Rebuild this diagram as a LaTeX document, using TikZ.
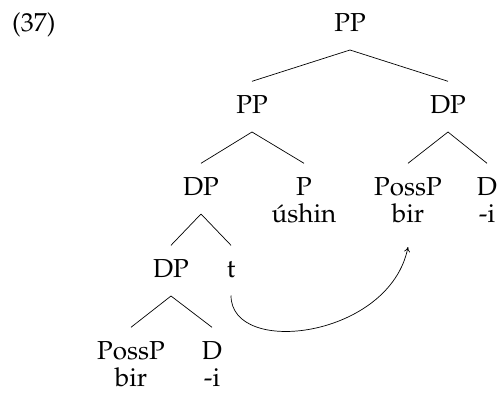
\documentclass[tikz,border=0pt]{standalone}
\IfFileExists{mathpazo.sty}{%
  \usepackage[T1]{fontenc}\usepackage{mathpazo}%
  \newcommand{\treesize}{\fontsize{26}{31}\selectfont}}{%
  \usepackage{fontspec}\setmainfont{Liberation Serif}%
  \newcommand{\treesize}{\fontsize{27.5}{32}\selectfont}}
\usetikzlibrary{arrows.meta}
\tikzset{
  cat/.style={inner xsep=1pt, inner ysep=0pt, text height=18pt, text depth=0pt, anchor=base},
  word/.style={inner xsep=1pt, inner ysep=0pt, anchor=base},
  branch/.style={line width=0.7pt},
  move/.style={line width=0.7pt, -{To[length=5pt,width=6pt]}}
}
\newcommand{\tbranch}[2]{%
  \draw[branch] ([yshift=-18.5pt]#1.base) -- ([yshift=14pt]#2.north);}
\begin{document}
\begin{tikzpicture}[x=1pt, y=-1pt, font=\treesize]
\useasboundingbox (0,0) rectangle (498,393);

% example number
\node[word, anchor=base west] (ex) at (11,31.5) {(37)};

% level 0
\node[cat] (root) at (350,31.5) {PP};
% level 1
\node[cat] (pp) at (252,113.5) {PP};
\node[cat] (dpr) at (448,113.5) {DP};
% level 2
\node[cat] (dp) at (201,195.5) {DP};
\node[cat] (p) at (304,195.5) {P};
\node[word] (pw) at (304,222) {\'ushin};
\node[cat] (possr) at (408,195.5) {PossP};
\node[word] (birr) at (408,222) {bir};
\node[cat] (dr) at (487,195.5) {D};
\node[word] (ir) at (487,222) {-i};
% level 3
\node[cat] (dpl) at (171,277.5) {DP};
\node[cat] (t) at (231,277.5) {t};
% level 4
\node[cat] (possl) at (131,359.5) {PossP};
\node[word] (birl) at (131,386) {bir};
\node[cat] (dl) at (212,359.5) {D};
\node[word] (il) at (212,386) {-i};

% branches
\tbranch{root}{pp}
\tbranch{root}{dpr}
\tbranch{pp}{dp}
\tbranch{pp}{p}
\tbranch{dpr}{possr}
\tbranch{dpr}{dr}
\tbranch{dp}{dpl}
\tbranch{dp}{t}
\tbranch{dpl}{possl}
\tbranch{dpl}{dl}

% movement arrow from the trace to the possessor
\draw[move] ([yshift=-18pt]t.base) .. controls +(0,62) and +(-18,91) .. ([yshift=-25pt]birr.base);
\end{tikzpicture}
\end{document}
